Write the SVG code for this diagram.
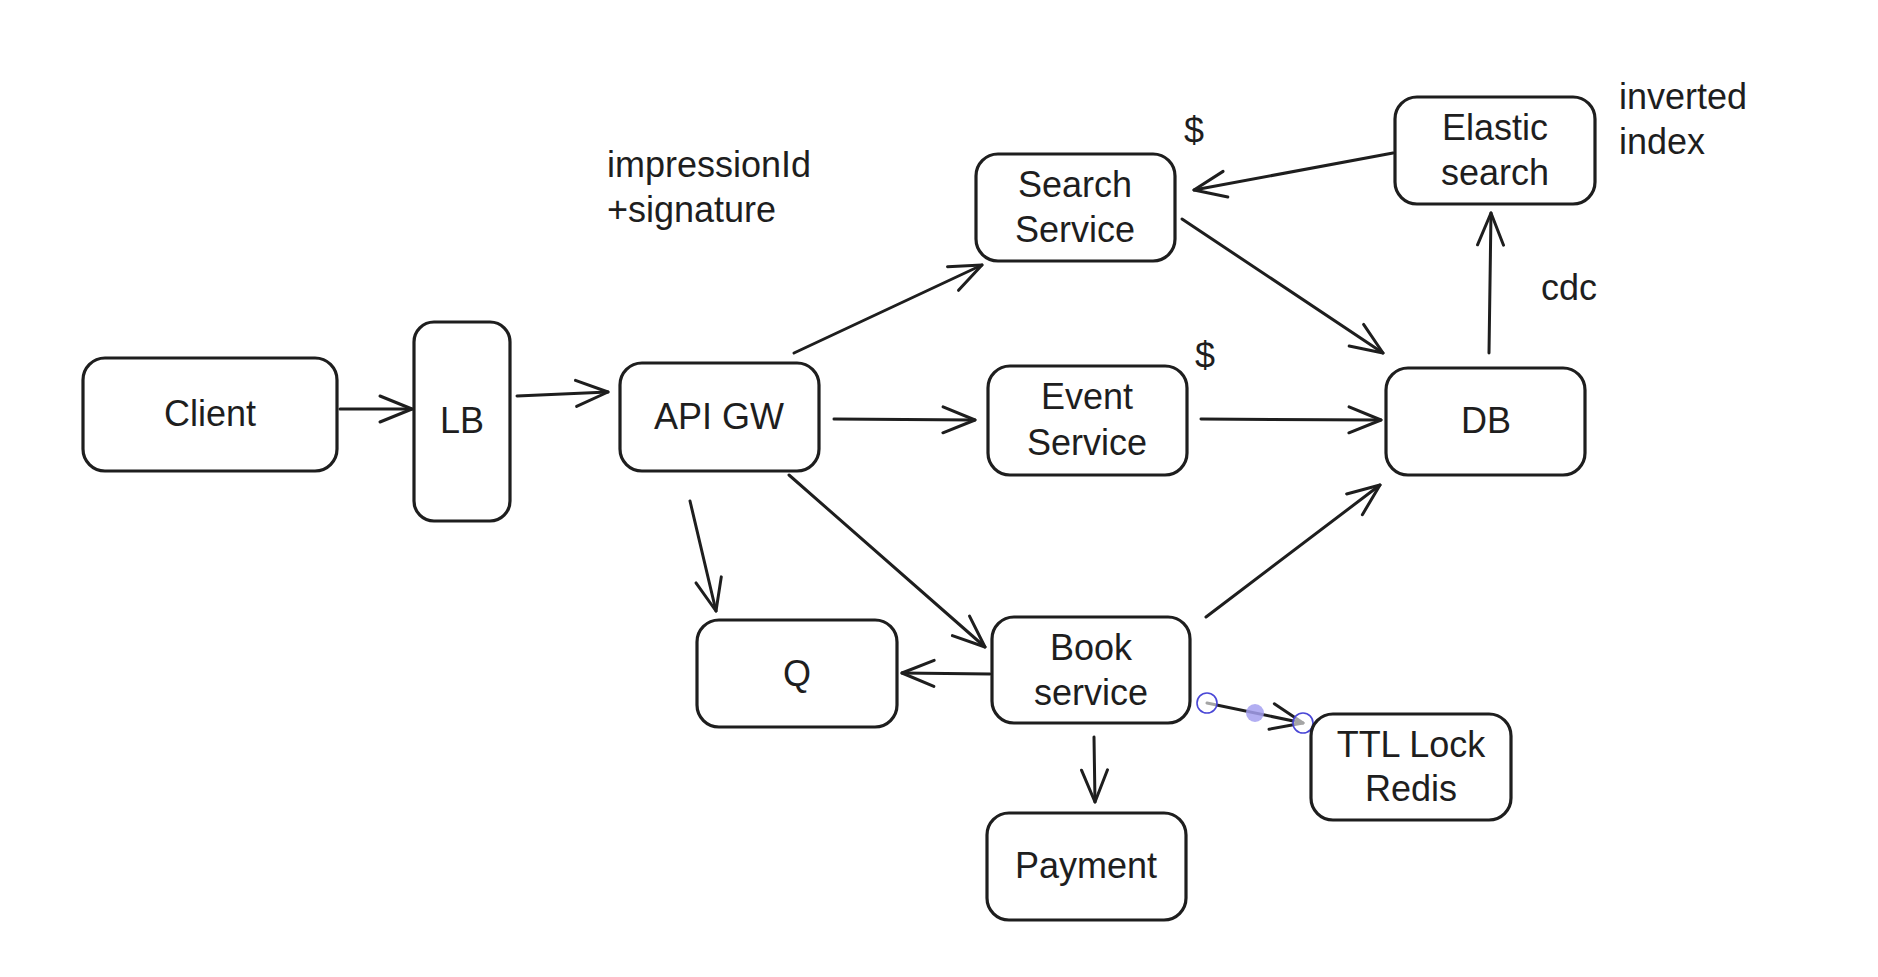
<svg xmlns="http://www.w3.org/2000/svg" width="1878" height="977" viewBox="0 0 1878 977">
<style>
.box{fill:#ffffff;stroke:#1e1e1e;stroke-width:3.2}
.lbl{font-family:"Liberation Sans",Arial,sans-serif;font-size:36px;fill:#1e1e1e;text-anchor:middle;dominant-baseline:central}
.note{font-family:"Liberation Sans",Arial,sans-serif;font-size:36px;fill:#1e1e1e;dominant-baseline:central}
.edge{fill:none;stroke:#1e1e1e;stroke-width:3;stroke-linecap:round;marker-end:url(#ah)}
</style>
<defs>
<marker id="ah" markerUnits="userSpaceOnUse" markerWidth="40" markerHeight="40" viewBox="-34 -20 40 40" refX="0" refY="0" orient="auto">
<path d="M-32,-13 L0,0 L-32,13" fill="none" stroke="#1e1e1e" stroke-width="3" stroke-linecap="round" stroke-linejoin="round"/>
</marker>
</defs>
<rect width="1878" height="977" fill="#ffffff"/>
<g id="connectors">
<path class="edge" d="M340,409 L412,409"/>
<path class="edge" d="M517,396 L608,392"/>
<path class="edge" d="M794,353 L982,265"/>
<path class="edge" d="M834,419 L975,420"/>
<path class="edge" d="M690,501 L716,611"/>
<path class="edge" d="M789,475 L985,647"/>
<path class="edge" d="M1182,219 L1383,353"/>
<path class="edge" d="M1201,419 L1381,420"/>
<path class="edge" d="M1393,153 L1194,190"/>
<path class="edge" d="M1489,353 L1491,213"/>
<path class="edge" d="M1206,617 L1380,485"/>
<path class="edge" d="M990,674 L902,673"/>
<path class="edge" d="M1094,737 L1095,802"/>
<path class="edge" d="M1207,703 L1303,723"/>
<circle cx="1255" cy="713" r="9" fill="#a5a0f0" opacity="0.85"/>
<circle cx="1207" cy="703" r="10" fill="#ffffff" fill-opacity="0.6" stroke="#4a47d6" stroke-width="1.6"/>
<circle cx="1303" cy="723" r="10" fill="#ffffff" fill-opacity="0.6" stroke="#4a47d6" stroke-width="1.6"/>
</g>
<g id="client"><rect class="box" x="83" y="358" width="254" height="113" rx="22"/><text class="lbl" x="210" y="413">Client</text></g>
<g id="lb"><rect class="box" x="414" y="322" width="96" height="199" rx="20"/><text class="lbl" x="462" y="420">LB</text></g>
<g id="apigw"><rect class="box" x="620" y="363" width="199" height="108" rx="22"/><text class="lbl" x="719" y="416">API GW</text></g>
<g id="search"><rect class="box" x="976" y="154" width="199" height="107" rx="22"/><text class="lbl" x="1075" y="184">Search</text><text class="lbl" x="1075" y="229">Service</text></g>
<g id="event"><rect class="box" x="988" y="366" width="199" height="109" rx="22"/><text class="lbl" x="1087" y="396">Event</text><text class="lbl" x="1087" y="442">Service</text></g>
<g id="db"><rect class="box" x="1386" y="368" width="199" height="107" rx="22"/><text class="lbl" x="1486" y="420">DB</text></g>
<g id="elastic"><rect class="box" x="1395" y="97" width="200" height="107" rx="22"/><text class="lbl" x="1495" y="127">Elastic</text><text class="lbl" x="1495" y="172">search</text></g>
<g id="q"><rect class="box" x="697" y="620" width="200" height="107" rx="22"/><text class="lbl" x="797" y="673">Q</text></g>
<g id="book"><rect class="box" x="992" y="617" width="198" height="106" rx="22"/><text class="lbl" x="1091" y="647">Book</text><text class="lbl" x="1091" y="692">service</text></g>
<g id="payment"><rect class="box" x="987" y="813" width="199" height="107" rx="22"/><text class="lbl" x="1086" y="865">Payment</text></g>
<g id="redis"><rect class="box" x="1311" y="714" width="200" height="106" rx="22"/><text class="lbl" x="1411" y="744">TTL Lock</text><text class="lbl" x="1411" y="788">Redis</text></g>
<g id="notes">
<text class="note" x="607" y="164">impressionId</text>
<text class="note" x="607" y="209">+signature</text>
<text class="note" x="1184" y="130">$</text>
<text class="note" x="1195" y="355">$</text>
<text class="note" x="1619" y="96">inverted</text>
<text class="note" x="1619" y="141">index</text>
<text class="note" x="1541" y="287">cdc</text>
</g>
</svg>
